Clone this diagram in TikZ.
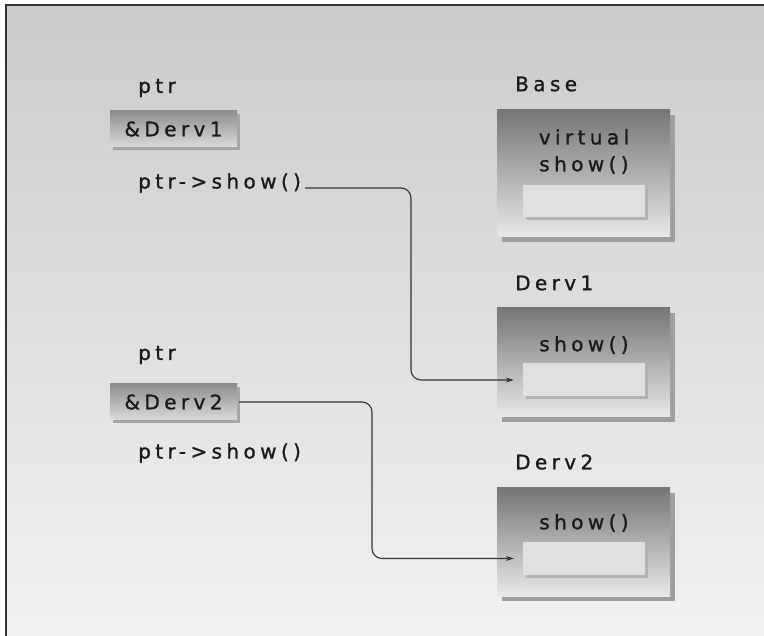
\documentclass[tikz,border=0pt]{standalone}
\usepackage{fontspec}
\newfontfamily\lblfont[LetterSpace=22,FakeBold=1.2]{DejaVu Sans}
\usetikzlibrary{shadows,arrows.meta}
\definecolor{bgtop}{HTML}{CBCBCB}
\definecolor{bgbot}{HTML}{F2F2F2}
\definecolor{frame}{HTML}{333333}
\definecolor{ink}{HTML}{1A1A1A}
\definecolor{boxtop}{HTML}{767676}
\definecolor{boxbot}{HTML}{E8E8E8}
\definecolor{inner}{HTML}{E0E0E0}
\definecolor{ptrtop}{HTML}{8E8E8E}
\definecolor{ptrmid}{HTML}{F2F2F2}
\definecolor{ptrbot}{HTML}{DADADA}
\tikzset{
  lbl/.style={font=\lblfont\fontsize{20}{23}\selectfont, text=ink, inner sep=0pt},
  bigbox/.style={draw=none, top color=boxtop, bottom color=boxbot, minimum width=173pt,
    general shadow={fill=gray!75, shadow xshift=5pt, shadow yshift=-5pt}},
  innerbox/.style={draw=none, fill=inner, minimum width=122pt, minimum height=33pt,
    general shadow={fill=gray!60, shadow xshift=3pt, shadow yshift=-3pt}},
  ptrbox/.style={draw=none, minimum width=127pt, minimum height=36pt, inner sep=0pt,
    top color=ptrtop, middle color=ptrmid, bottom color=ptrbot, shading angle=0,
    general shadow={fill=gray!70, shadow xshift=3pt, shadow yshift=-3pt},
    font=\lblfont\fontsize{20}{23}\selectfont, text=ink},
  conn/.style={draw=frame, line width=1.1pt, rounded corners=10pt,
    -{Stealth[length=8pt,width=5pt]}}
}
\begin{document}
\begin{tikzpicture}[x=1pt,y=-1pt]
\useasboundingbox (0,0) rectangle (764,636);
\fill[white] (-5,-5) rectangle (770,642);
\shade[top color=bgtop, bottom color=bgbot] (6,5) rectangle (770,642);
\draw[frame, line width=1.6pt] (6,642) -- (6,5) -- (770,5);

% left column
\node[lbl, anchor=west] (ptrA) at (138,88) {ptr};
\node[ptrbox] (valA) at (173.5,129) {\&Derv1};
\node[lbl, anchor=west] (callA) at (138,183) {ptr->show()};

\node[lbl, anchor=west] (ptrB) at (138,355) {ptr};
\node[ptrbox] (valB) at (173.5,402) {\&Derv2};
\node[lbl, anchor=west] (callB) at (138,453) {ptr->show()};

% right column
\node[lbl, anchor=west] (baseL) at (515,84) {Base};
\node[bigbox, minimum height=127pt] (base) at (583.5,173.5) {};
\node[lbl] (baseT1) at (584,137) {virtual};
\node[lbl] (baseT2) at (584,165) {show()};
\node[innerbox, minimum height=32pt] (baseIn) at (584,201) {};

\node[lbl, anchor=west] (d1L) at (515,283) {Derv1};
\node[bigbox, minimum height=109pt] (d1) at (583.5,362.5) {};
\node[lbl] (d1T) at (584,345) {show()};
\node[innerbox] (d1In) at (584,380) {};

\node[lbl, anchor=west] (d2L) at (515,462) {Derv2};
\node[bigbox, minimum height=108pt] (d2) at (583.5,542) {};
\node[lbl] (d2T) at (584,523) {show()};
\node[innerbox] (d2In) at (584,558.5) {};

% connectors
\coordinate (turnA) at (411,380);
\coordinate (turnB) at (372,558.5);
\draw[conn, shorten >=9pt] ([xshift=4pt,yshift=-5pt]callA.east) -| (turnA) -- (d1In.west);
\draw[conn, shorten >=9pt] ([xshift=2pt]valB.east) -| (turnB) -- (d2In.west);
\end{tikzpicture}
\end{document}
